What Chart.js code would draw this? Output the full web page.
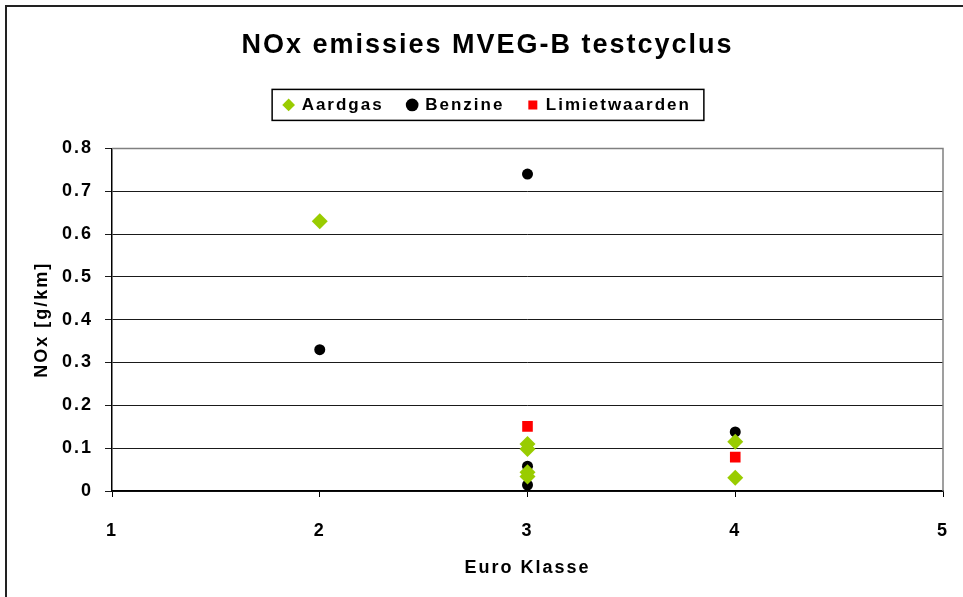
<!DOCTYPE html>
<html>
<head>
<meta charset="utf-8">
<script src="https://cdn.jsdelivr.net/npm/chart.js@4"></script>
<style>
  html, body { margin: 0; padding: 0; background: #fff; }
  #wrap { position: relative; width: 963px; height: 597px; }
</style>
</head>
<body>
<div id="wrap"><canvas id="noxChart" width="963" height="597"></canvas></div>
<script>
// NOx emissions per Euro class
const aardgasX = [2, 3, 3, 3, 3, 4, 4];
const aardgasY = [0.63, 0.11, 0.098, 0.044, 0.034, 0.115, 0.031];
const benzineX = [2, 3, 3, 3, 4];
const benzineY = [0.33, 0.74, 0.058, 0.014, 0.138];
const limietX = [3, 4];
const limietY = [0.151, 0.079];
const xTicks = [1, 2, 3, 4, 5];
const yTicks = [0, 0.1, 0.2, 0.3, 0.4, 0.5, 0.6, 0.7, 0.8];

const FONT = "'Liberation Sans', Arial, sans-serif";
const SPACING = '2px';

function toPoints(xs, ys) {
  return xs.map((x, i) => ({ x: x, y: ys[i] }));
}

// white background, outer frame, plot frame and legend border
const framePlugin = {
  id: 'frames',
  beforeInit(chart) {
    const fit = chart.legend.fit;
    chart.legend.fit = function () {
      fit.bind(chart.legend)();
      this.height = 76;
    };
  },
  beforeLayout(chart) {
    chart.ctx.letterSpacing = SPACING;
  },
  beforeDraw(chart) {
    const ctx = chart.ctx;
    ctx.letterSpacing = SPACING;
    ctx.save();
    ctx.fillStyle = '#fff';
    ctx.fillRect(0, 0, chart.width, chart.height);
    ctx.strokeStyle = '#222';
    ctx.lineWidth = 2;
    ctx.beginPath();
    ctx.moveTo(6, chart.height);
    ctx.lineTo(6, 6);
    ctx.lineTo(chart.width, 6);
    ctx.stroke();
    ctx.restore();
  },
  beforeDatasetsDraw(chart) {
    const a = chart.chartArea;
    const ctx = chart.ctx;
    ctx.save();
    ctx.strokeStyle = '#808080';
    ctx.lineWidth = 1.5;
    ctx.beginPath();
    ctx.moveTo(a.left, a.top);
    ctx.lineTo(a.right, a.top);
    ctx.lineTo(a.right, a.bottom);
    ctx.stroke();
    ctx.restore();
  },
  afterDraw(chart) {
    const boxes = chart.legend.legendHitBoxes;
    if (!boxes || !boxes.length) return;
    const left = Math.min(...boxes.map(b => b.left)) - 12;
    const right = Math.max(...boxes.map(b => b.left + b.width)) + 13;
    const top = boxes[0].top - 7;
    const bottom = boxes[0].top + boxes[0].height + 7;
    const ctx = chart.ctx;
    ctx.save();
    ctx.strokeStyle = '#000';
    ctx.lineWidth = 1.5;
    ctx.strokeRect(left, top, right - left, bottom - top);
    ctx.restore();
  }
};

new Chart(document.getElementById('noxChart'), {
  type: 'scatter',
  data: {
    datasets: [
      {
        label: 'Aardgas',
        data: toPoints(aardgasX, aardgasY),
        pointStyle: 'rectRot',
        pointRadius: 8,
        pointHoverRadius: 8,
        backgroundColor: '#99cc00',
        borderColor: '#99cc00',
        borderWidth: 0
      },
      {
        label: 'Benzine',
        data: toPoints(benzineX, benzineY),
        pointStyle: 'circle',
        pointRadius: 5.5,
        pointHoverRadius: 5.5,
        backgroundColor: '#000',
        borderColor: '#000',
        borderWidth: 0
      },
      {
        label: 'Limietwaarden',
        data: toPoints(limietX, limietY),
        pointStyle: 'rect',
        pointRadius: 7.5,
        pointHoverRadius: 7.5,
        backgroundColor: '#ff0000',
        borderColor: '#ff0000',
        borderWidth: 0
      }
    ]
  },
  options: {
    responsive: false,
    animation: false,
    layout: { padding: { left: 12, right: 0, top: 0, bottom: 0 } },
    plugins: {
      tooltip: { enabled: false },
      title: {
        display: true,
        text: 'NOx emissies MVEG-B testcyclus',
        color: '#000',
        font: { family: FONT, size: 27, weight: 'bold' },
        padding: { top: 29, bottom: 11 }
      },
      legend: {
        display: true,
        labels: {
          usePointStyle: true,
          boxWidth: 9,
          boxHeight: 9,
          padding: 24,
          color: '#000',
          font: { family: FONT, size: 17, weight: 'bold' }
        }
      }
    },
    scales: {
      x: {
        type: 'linear',
        min: 1,
        max: 5,
        afterFit(scale) {
          scale.height = 106;
          scale.paddingLeft = 0;
          scale.paddingRight = 20;
        },
        afterBuildTicks(scale) { scale.ticks = xTicks.map(v => ({ value: v })); },
        grid: {
          drawOnChartArea: false,
          drawTicks: true,
          tickLength: 6,
          color: '#000'
        },
        border: { display: true, color: '#000', width: 1.5 },
        ticks: {
          color: '#000',
          padding: 23,
          font: { family: FONT, size: 18, weight: 'bold' }
        },
        title: {
          display: true,
          text: 'Euro Klasse',
          color: '#000',
          font: { family: FONT, size: 18, weight: 'bold' },
          padding: { top: 0, bottom: 18 }
        }
      },
      y: {
        type: 'linear',
        min: 0,
        max: 0.8,
        afterFit(scale) { scale.width = 100; },
        afterBuildTicks(scale) { scale.ticks = yTicks.map(v => ({ value: v })); },
        grid: {
          drawTicks: true,
          tickLength: 7,
          color: '#1a1a1a',
          lineWidth: 1
        },
        border: { display: true, color: '#000', width: 1.5 },
        ticks: {
          color: '#000',
          padding: 12,
          callback: v => String(Math.round(v * 10) / 10),
          font: { family: FONT, size: 18, weight: 'bold' }
        },
        title: {
          display: true,
          text: 'NOx [g/km]',
          color: '#000',
          font: { family: FONT, size: 18, weight: 'bold' },
          padding: { top: 19, bottom: 0 }
        }
      }
    }
  },
  plugins: [framePlugin]
});
</script>
</body>
</html>
